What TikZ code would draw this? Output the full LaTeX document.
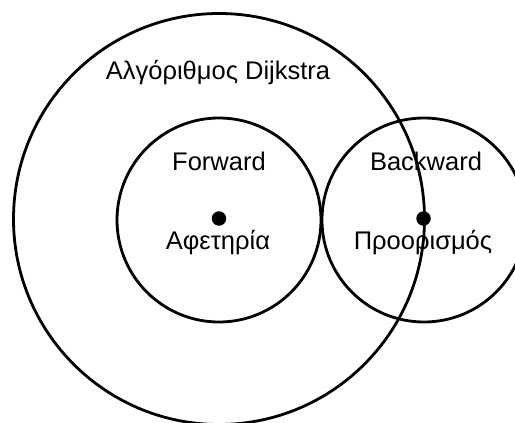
\documentclass[tikz,border=0pt]{standalone}
\usepackage{fontspec}
\setmainfont{Liberation Sans}
\begin{document}
\begin{tikzpicture}[x=1pt,y=-1pt,
  ring/.style={draw=black,line width=2.8pt,circle,inner sep=0pt},
  spot/.style={fill=black,circle,inner sep=0pt,minimum size=14.5pt},
  lbl/.style={anchor=base,inner sep=0pt,font=\fontsize{25.5}{30}\selectfont}]
  \useasboundingbox (0,0) rectangle (515,423);
  \clip (0,0) rectangle (515,423);
  % outer search region and the two search frontiers
  \node[ring,minimum size=411pt] (outer) at (219,219) {};
  \node[ring,minimum size=204pt] (fwd) at (219,220) {};
  \node[ring,minimum size=204pt] (bwd) at (424,220) {};
  % start and goal vertices
  \node[spot] (start) at (219,218.5) {};
  \node[spot] (goal) at (423.5,218.5) {};
  % labels
  \node[lbl] (title) at (218,79) {Αλγόριθμος Dijkstra};
  \node[lbl] (fwdlbl) at (219,170) {Forward};
  \node[lbl] (bwdlbl) at (426,170.5) {Backward};
  \node[lbl] (startlbl) at (218,249) {Αφετηρία};
  \node[lbl] (goallbl) at (423,249) {Προορισμός};
\end{tikzpicture}
\end{document}
